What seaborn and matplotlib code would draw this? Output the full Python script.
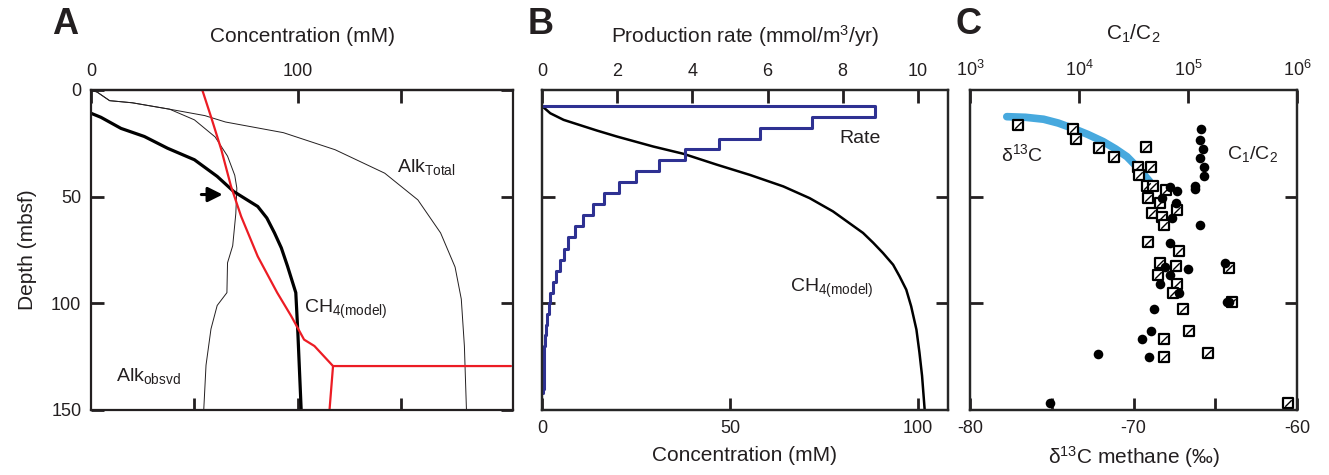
import numpy as np
import pandas as pd
import seaborn as sns
import matplotlib.pyplot as plt
from matplotlib.path import Path

# Panel A: concentration (mM) vs depth (mbsf)
alk_total_conc = [0, 3, 9, 20, 38, 55, 65, 93, 118, 142, 158, 169, 176, 179, 180.5, 181.5]
alk_total_depth = [0, 1, 5, 6, 9, 12, 15, 20, 28, 39, 51.5, 67, 83, 98, 120, 150]

alk_obs_conc = [0, 3, 9, 20, 38, 50, 60, 66, 69.5, 70.5, 70, 68.5, 66, 65.7, 61, 58, 55.6, 54.5]
alk_obs_depth = [0, 1, 5, 6, 9, 14, 22, 31, 40, 46, 58, 73, 81, 95, 101, 112, 129, 150]

ch4_a_conc = [0, 4.8, 14.5, 25.8, 37, 50, 61, 69, 80.6, 85, 88.7, 92, 95, 99, 100, 101.6]
ch4_a_depth = [10.9, 12.8, 18, 21.8, 27.3, 32.7, 40.5, 47.6, 54.6, 60, 67, 74, 82.6, 95, 113.8, 150]

red_conc = [53.8, 58, 63, 67.7, 72.6, 80.6, 90, 96.8, 103, 108, 117, 203]
red_depth = [0, 12.5, 28, 45.2, 59.3, 78, 95, 106, 117, 120, 129.4, 129.4]
red_tail_conc = [117, 115.3]
red_tail_depth = [129.4, 150]

# Panel B: production rate (step profile) and modelled CH4
rate_edges = [7.5, 12.5, 17.9, 23, 27.8, 32.7, 37.9, 43.2, 48.3, 53.5, 58.5, 63.9, 69, 74.4,
              79.5, 85, 90.1, 95, 100, 105, 110, 115, 120, 125, 130, 135, 140, 142]
rate_vals = [0, 8.87, 7.17, 5.8, 4.72, 3.8, 3.1, 2.5, 2.04, 1.64, 1.35, 1.09, 0.88, 0.69,
             0.58, 0.47, 0.37, 0.29, 0.22, 0.18, 0.13, 0.10, 0.08, 0.065, 0.05, 0.045, 0.04, 0.035]

ch4_b_conc = [0, 2.2, 5.75, 14.6, 19.9, 29.6, 37.6, 46.5, 55.3, 64.2, 71.2, 77.4, 85.4, 88.1,
              90.7, 93.4, 95.1, 96.9, 98.2, 99.6, 100.4, 101.1, 101.8]
ch4_b_depth = [7.5, 10.9, 14, 19, 21.8, 26.5, 29.9, 35, 39.8, 45.2, 50.7, 56.9, 67, 71.6,
               76.4, 81.9, 87.3, 93.6, 101.4, 112.3, 123, 134, 150]

# Panel C: d13C methane (squares), C1/C2 (circles), model d13C curve
d13c_vals = [-77.08, -73.72, -73.52, -72.09, -71.17, -69.26, -69.75, -68.93, -69.64, -69.15,
             -68.83, -68.01, -69.13, -68.36, -67.36, -68.85, -68.24, -68.12, -69.13, -67.22,
             -68.36, -67.42, -68.52, -67.34, -67.56, -64.14, -64.0, -66.95, -66.58, -68.12,
             -65.44, -68.12, -60.53]
d13c_depth = [16.4, 18.4, 23.1, 27.3, 31.6, 26.6, 35.9, 35.9, 39.8, 44.8,
              45.0, 46.9, 50.5, 53.1, 56.25, 57.8, 59.7, 63.3, 71.4, 75.5,
              80.9, 82.5, 86.7, 91.1, 95.0, 83.6, 99.2, 102.7, 112.8, 116.9,
              123.4, 125.0, 146.6]

c1c2_vals = [1.33e5, 1.29e5, 1.36e5, 1.29e5, 1.41e5, 1.41e5, 1.17e5, 1.17e5, 6.9e4, 7.9e4,
             5.8e4, 7.8e4, 7.1e4, 1.29e5, 6.8e4, 6.2e4, 9.9e4, 6.8e4, 5.5e4, 8.3e4,
             2.2e5, 2.26e5, 2.4e5, 4.9e4, 4.6e4, 3.8e4, 1.5e4, 4.4e4, 5.4e3]
c1c2_depth = [18.4, 23.4, 27.7, 31.7, 36.25, 40.3, 45.0, 46.6, 45.6, 47.3,
              50.5, 53.1, 59.8, 63.3, 71.6, 82.8, 83.9, 86.7, 91.1, 95.0,
              81.25, 99.2, 99.2, 102.7, 113, 116.9, 123.75, 125, 146.9]

model_d13c = [-77.75, -76.6, -75.5, -74.6, -73.7, -72.8, -71.85, -71.1, -70.4, -69.6, -69.0]
model_depth = [12.5, 12.8, 13.7, 15.5, 18, 20.8, 24.2, 27.6, 31.25, 37.5, 43]

sns.set_style('ticks')
plt.rcParams['font.family'] = ['Liberation Sans', 'DejaVu Sans']
plt.rcParams['mathtext.default'] = 'regular'
plt.rcParams['axes.linewidth'] = 1.6

ink = '#231F20'
red = '#EC1C24'
navy = '#2E3192'
sky = '#47A9DE'

fig = plt.figure(figsize=(13.29, 4.75), dpi=100)
bottom, height = 1 - 410 / 475, 320 / 475
axA = fig.add_axes([91 / 1329, bottom, 422 / 1329, height])
axB = fig.add_axes([542 / 1329, bottom, 406 / 1329, height])
axC = fig.add_axes([970 / 1329, bottom, 327 / 1329, height])

tick_kw = dict(direction='in', length=9, width=2, colors=ink, labelsize=13, pad=7)


def style(ax):
    for s in ax.spines.values():
        s.set_visible(True)
        s.set_linewidth(1.6)
        s.set_color(ink)
    ax.set_ylim(150, 0)
    ax.set_xlabel('')
    ax.set_ylabel('')


# ---------------- A ----------------
sns.lineplot(x=alk_total_conc, y=alk_total_depth, sort=False, estimator=None, color=ink, lw=0.7, ax=axA)
sns.lineplot(x=alk_obs_conc, y=alk_obs_depth, sort=False, estimator=None, color=ink, lw=0.7, ax=axA)
sns.lineplot(x=ch4_a_conc, y=ch4_a_depth, sort=False, estimator=None, color='black', lw=2.3, ax=axA)
sns.lineplot(x=red_conc, y=red_depth, sort=False, estimator=None, color=red, lw=1.6, ax=axA)
sns.lineplot(x=red_tail_conc, y=red_tail_depth, sort=False, estimator=None, color=red, lw=1.6, ax=axA)
style(axA)
axA.set_xlim(0, 204)
axA.set_xticks([50, 100, 150])
axA.set_yticks([0, 50, 100, 150])
axA.tick_params(axis='x', bottom=True, labelbottom=False, **tick_kw)
axA.tick_params(axis='y', left=True, right=True, **tick_kw)
secA = axA.secondary_xaxis('top')
secA.set_xticks([0, 100, 150], ['0', '100', ''])
secA.tick_params(**tick_kw)
secA.spines['top'].set_linewidth(1.6)
secA.set_xlabel('Concentration (mM)', fontsize=15, labelpad=15, color=ink)
axA.set_ylabel('Depth (mbsf)', fontsize=15, labelpad=10, color=ink)
axA.annotate('', xy=(65, 49), xytext=(52, 49),
             arrowprops=dict(arrowstyle='-|>', lw=2.2, color='black', mutation_scale=22))
axA.text(148, 36, 'Alk$_{Total}$', fontsize=14, color=ink, va='center')
axA.text(103, 103, 'CH$_{4(model)}$', fontsize=14, color=ink, va='center')
axA.text(12, 134, 'Alk$_{obsvd}$', fontsize=14, color=ink, va='center')

# ---------------- B ----------------
sns.lineplot(x=ch4_b_conc, y=ch4_b_depth, sort=False, estimator=None, color='black', lw=1.8, ax=axB)
style(axB)
axB.set_xlim(0, 108)
axB.set_xticks([0, 50, 100])
axB.set_yticks([50, 100])
axB.tick_params(axis='x', **tick_kw)
axB.tick_params(axis='y', left=True, right=True, labelleft=False, **tick_kw)
axB.set_xlabel('Concentration (mM)', fontsize=15, labelpad=7, color=ink)
axB.text(65.9, 92.8, 'CH$_{4(model)}$', fontsize=14, color=ink, va='center')

axR = axB.twiny()
sns.lineplot(x=rate_vals, y=rate_edges, sort=False, estimator=None, color=navy, lw=2.2,
             drawstyle='steps-post', ax=axR)
axR.set_xlim(0, 10.8)
axR.set_ylim(150, 0)
axR.set_xticks([0, 2, 4, 6, 8, 10])
axR.tick_params(axis='x', **tick_kw)
axR.set_xlabel('Production rate (mmol/m$^3$/yr)', fontsize=15, labelpad=15, color=ink)
axR.set_ylabel('')
axR.text(7.9, 22.6, 'Rate', fontsize=14, color=ink, va='center')

# ---------------- C ----------------
slash = Path([(-0.5, -0.5), (0.5, 0.5)], [Path.MOVETO, Path.LINETO])
sns.lineplot(x=model_d13c, y=model_depth, sort=False, estimator=None, color=sky, lw=5.5,
             solid_capstyle='round', ax=axC)
sns.scatterplot(x=d13c_vals, y=d13c_depth, marker='s', s=55, color='white',
                edgecolor='black', linewidth=1.6, ax=axC, zorder=3)
sns.scatterplot(x=d13c_vals, y=d13c_depth, marker=slash, s=22, color='black',
                edgecolor='black', linewidth=1.0, ax=axC, zorder=4)
style(axC)
axC.set_xlim(-80, -60)
axC.set_xticks([-80, -75, -70, -65, -60], ['-80', '', '-70', '', '-60'])
axC.set_yticks([50, 100])
axC.tick_params(axis='x', **tick_kw)
axC.tick_params(axis='y', left=True, right=True, labelleft=False, **tick_kw)
axC.set_xlabel('δ$^{13}$C methane (‰)', fontsize=15, labelpad=5, color=ink)
axC.text(-78.1, 30, 'δ$^{13}$C', fontsize=14, color=ink, va='center')
axC.text(-64.3, 30, 'C$_1$/C$_2$', fontsize=14, color=ink, va='center')

axT = axC.twiny()
sns.scatterplot(x=c1c2_vals, y=c1c2_depth, marker='o', s=48, color='black',
                edgecolor='black', linewidth=0, ax=axT, zorder=2)
axT.set_xscale('log')
axT.set_xlim(1e3, 1e6)
axT.set_ylim(150, 0)
axT.set_xticks([1e3, 1e4, 1e5, 1e6])
axT.minorticks_off()
axT.tick_params(axis='x', **tick_kw)
axT.set_xlabel('C$_1$/C$_2$', fontsize=15, labelpad=15, color=ink)
axT.set_ylabel('')

for ax in (axA, axB, axR, axC, axT):
    for lab in ax.get_xticklabels() + ax.get_yticklabels():
        lab.set_color(ink)

fig.text(52 / 1329, 1 - 25 / 475, 'A', fontsize=26, fontweight='bold', va='center', color=ink)
fig.text(528 / 1329, 1 - 25 / 475, 'B', fontsize=26, fontweight='bold', va='center', color=ink)
fig.text(956 / 1329, 1 - 25 / 475, 'C', fontsize=26, fontweight='bold', va='center', color=ink)

fig.savefig('out.png', dpi=100)
